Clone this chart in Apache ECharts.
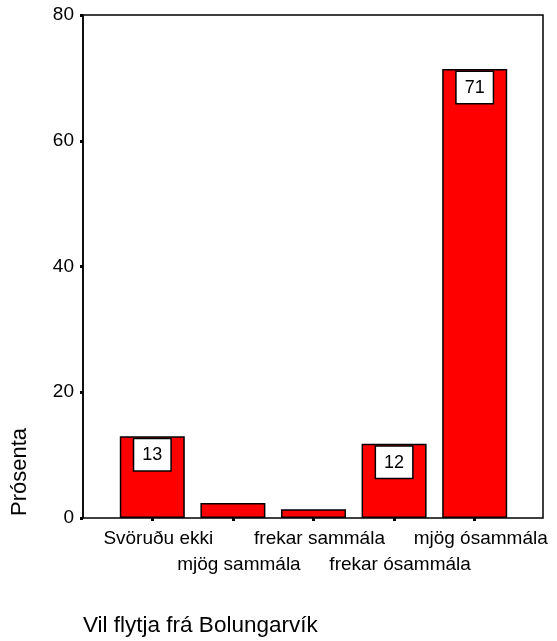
<!DOCTYPE html>
<html>
<head>
<meta charset="utf-8">
<script src="https://cdn.jsdelivr.net/npm/echarts@6/dist/echarts.min.js"></script>
<style>
  html, body { margin: 0; padding: 0; background: #fff; }
  #main { width: 557px; height: 641px; }
</style>
</head>
<body>
<div id="main"></div>
<script>
    // gögn
    var categories = ['Svöruðu ekki', 'mjög sammála', 'frekar sammála', 'frekar ósammála', 'mjög ósammála'];
    var percents = [13.0, 2.4, 1.4, 11.8, 71.4];
    var yTicks = [0, 20, 40, 60, 80];

    var myChart = echarts.init(document.getElementById('main'));
    var font = 'Liberation Sans, Arial, sans-serif';

    option = {
        animation: false,
        textStyle: { fontFamily: font },
        grid: [
            { left: 83, right: 14, top: 15, bottom: 123, show: true, borderColor: '#000', borderWidth: 1.5, backgroundColor: 'transparent' },
            { left: 112, right: 42, top: 15, bottom: 123 }
        ],
        xAxis: [
            { gridIndex: 0, type: 'value', show: false },
            {
                gridIndex: 1,
                type: 'category',
                data: categories,
                axisLine: { show: false },
                axisTick: { show: true, alignWithLabel: true, length: 3, lineStyle: { color: '#000', width: 3 } },
                axisLabel: {
                    interval: 0,
                    margin: 8,
                    color: '#000',
                    fontSize: 19,
                    fontFamily: font,
                    lineHeight: 26,
                    padding: [0, 0, 0, 12],
                    formatter: function (v, i) { return i % 2 ? '\n' + v : v; }
                }
            }
        ],
        yAxis: [
            {
                gridIndex: 0,
                type: 'value',
                min: yTicks[0],
                max: yTicks[yTicks.length - 1],
                interval: 20,
                splitLine: { show: false },
                axisLine: { show: true, lineStyle: { color: '#000', width: 1.5 } },
                axisTick: { show: true, length: 3, lineStyle: { color: '#000', width: 3 } },
                axisLabel: { color: '#000', fontSize: 19, fontFamily: font, margin: 9 }
            },
            { gridIndex: 1, type: 'value', min: 0, max: 80, show: false }
        ],
        series: [
            {
                type: 'bar',
                xAxisIndex: 1,
                yAxisIndex: 1,
                barWidth: 65,
                itemStyle: { color: '#ff0000', borderColor: '#000', borderWidth: 1.5 },
                label: {
                    position: 'insideTop',
                    distance: 3,
                    color: '#000',
                    fontSize: 18,
                    fontFamily: font,
                    backgroundColor: '#fff',
                    borderColor: '#000',
                    borderWidth: 1.5,
                    padding: [7, 8, 6, 8],
                    formatter: function (p) { return Math.round(p.value); }
                },
                data: percents.map(function (v) {
                    return { value: v, label: { show: v >= 5 } };
                })
            }
        ],
        graphic: [
            {
                type: 'text',
                x: 20, y: 472,
                rotation: Math.PI / 2,
                style: { text: 'Prósenta', fill: '#000', font: '22px ' + font, textAlign: 'center', textVerticalAlign: 'middle' }
            },
            {
                type: 'text',
                left: 83, top: 614,
                style: { text: 'Vil flytja frá Bolungarvík', fill: '#000', font: '22.5px ' + font }
            }
        ]
    };

    myChart.setOption(option);
</script>
</body>
</html>
